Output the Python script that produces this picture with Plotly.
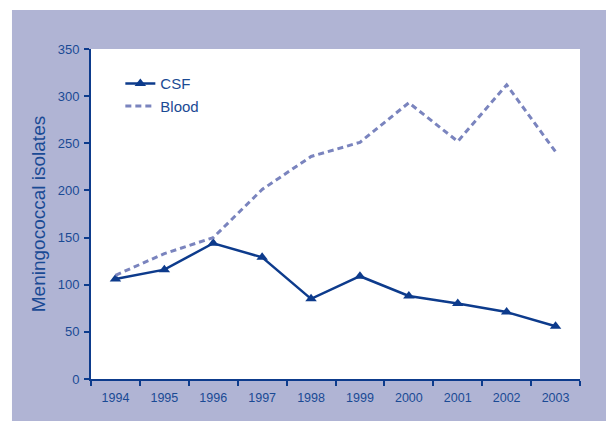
import plotly.graph_objects as go

years = ["1994", "1995", "1996", "1997", "1998", "1999", "2000", "2001", "2002", "2003"]
csf = [106, 116, 144, 129, 85, 109, 88, 80, 71, 56]
blood = [110, 133, 150, 201, 236, 251, 293, 252, 312, 241]
y_ticks = [0, 50, 100, 150, 200, 250, 300, 350]

NAVY = "#0d3b8c"
BLOOD = "#7a84be"
TEXT = "#1a4a94"
LAV = "#b0b4d4"
FONT = "Liberation Sans, Arial, sans-serif"

fig = go.Figure()
fig.add_trace(go.Scatter(
    x=years, y=csf, name="CSF", mode="lines+markers", legendgroup="a",
    line=dict(color=NAVY, width=2.5),
    marker=dict(symbol="triangle-up", size=10, color=NAVY),
))
fig.add_trace(go.Scatter(
    x=years, y=blood, name="Blood", mode="lines", legendgroup="b",
    line=dict(color=BLOOD, width=3, dash="6px,4px"),
))

fig.update_layout(
    width=614, height=421,
    margin=dict(l=83, r=42, t=41, b=50),
    paper_bgcolor="white",
    plot_bgcolor="white",
    font=dict(family=FONT, color=TEXT, size=12),
    showlegend=True,
    legend=dict(
        x=0.06, y=0.945, xanchor="left", yanchor="top",
        bgcolor="rgba(0,0,0,0)", font=dict(size=15, color=TEXT),
        tracegroupgap=0, traceorder="grouped",
    ),
    shapes=[
        dict(type="rect", xref="paper", yref="paper", x0=-0.1616, x1=1.2, y0=-0.3, y1=1.118,
             fillcolor=LAV, line=dict(width=0), layer="below"),
        dict(type="rect", xref="paper", yref="paper", x0=0, x1=1, y0=0, y1=1,
             fillcolor="white", line=dict(width=0), layer="below"),
    ],
)
fig.update_xaxes(
    type="category", range=[-0.5, 9.5], tickson="boundaries",
    showline=True, linecolor=NAVY, linewidth=2,
    ticks="outside", ticklen=5, tickcolor=NAVY, tickwidth=1.5,
    ticklabelstandoff=6,
    showgrid=False, zeroline=False,
    tickfont=dict(size=12.5, color=TEXT),
)
fig.update_yaxes(
    range=[0, 350], tickvals=y_ticks,
    showline=True, linecolor=NAVY, linewidth=2,
    ticks="outside", ticklen=5, tickcolor=NAVY, tickwidth=1.5,
    ticklabelstandoff=2,
    showgrid=False, zeroline=False,
    tickfont=dict(size=13, color=TEXT),
    title=dict(text="Meningococcal isolates", font=dict(size=19, color=TEXT), standoff=7),
)

fig.write_html("out.html")
